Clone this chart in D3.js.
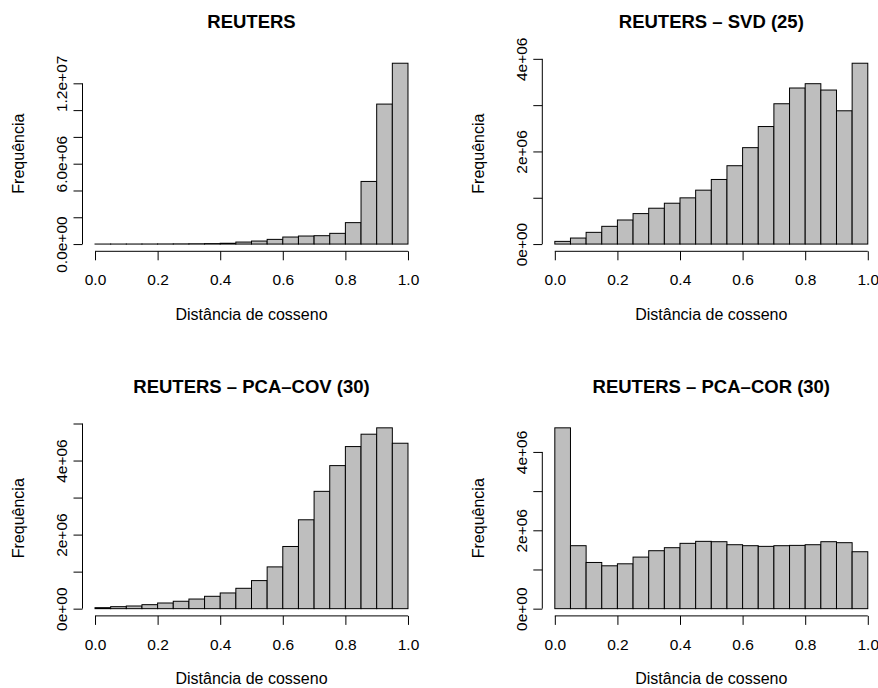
<!DOCTYPE html>
<html>
<head>
<meta charset="utf-8">
<script src="https://cdn.jsdelivr.net/npm/d3@7"></script>
<style>
  html, body { margin: 0; padding: 0; background: #ffffff; }
  svg { display: block; }
  text { font-family: "Liberation Sans", Arial, Helvetica, sans-serif; fill: #000; }
</style>
</head>
<body>
<svg id="chart" width="878" height="688"></svg>
<script>
// Histogram bin edges: 20 bins of width 0.05 over [0, 1]
const binEdges = d3.range(0, 21).map(i => i / 20);

// Counts per bin for each panel
const countsReuters = [2000, 3000, 4000, 6000, 9000, 14000, 22000, 35000, 60000, 150000,
  225000, 350000, 525000, 600000, 625000, 800000, 1600000, 4675000, 10450000, 13500000];
const countsSvd = [58000, 130000, 253000, 383000, 520000, 658000, 774000, 882000, 998000, 1164000,
  1395000, 1692000, 2082000, 2538000, 3030000, 3370000, 3463000, 3326000, 2878000, 3905000];
const countsPcaCov = [27000, 54000, 72000, 108000, 153000, 200000, 260000, 334000, 424000, 550000,
  758000, 1128000, 1679000, 2400000, 3168000, 3863000, 4377000, 4711000, 4883000, 4467000];
const countsPcaCor = [4615000, 1607000, 1179000, 1094000, 1145000, 1316000, 1479000, 1556000, 1667000, 1718000,
  1709000, 1632000, 1607000, 1590000, 1607000, 1615000, 1632000, 1709000, 1684000, 1453000];

// Panel titles
const titles = ["REUTERS", "REUTERS – SVD (25)", "REUTERS – PCA–COV (30)", "REUTERS – PCA–COR (30)"];

// Axis ticks and labels
const xTicks = [0, 0.2, 0.4, 0.6, 0.8, 1.0];
const xTickLabels = ["0.0", "0.2", "0.4", "0.6", "0.8", "1.0"];
const yTicksReuters = [0, 2e6, 4e6, 6e6, 8e6, 10e6, 12e6];
const yLabelsReuters = ["0.0e+00", "", "", "6.0e+06", "", "", "1.2e+07"];
const yTicksSvd = [0, 1e6, 2e6, 3e6, 4e6];
const yLabelsSvd = ["0e+00", "", "2e+06", "", "4e+06"];
const yTicksPcaCov = [0, 1e6, 2e6, 3e6, 4e6, 5e6];
const yLabelsPcaCov = ["0e+00", "", "2e+06", "", "4e+06", ""];
const yTicksPcaCor = [0, 1e6, 2e6, 3e6, 4e6];
const yLabelsPcaCor = ["0e+00", "", "2e+06", "", "4e+06"];

const xAxisTitle = "Distância de cosseno";
const yAxisTitle = "Frequência";

const panels = [
  { title: titles[0], counts: countsReuters, yTicks: yTicksReuters, yLabels: yLabelsReuters, col: 0, row: 0 },
  { title: titles[1], counts: countsSvd, yTicks: yTicksSvd, yLabels: yLabelsSvd, col: 1, row: 0 },
  { title: titles[2], counts: countsPcaCov, yTicks: yTicksPcaCov, yLabels: yLabelsPcaCov, col: 0, row: 1 },
  { title: titles[3], counts: countsPcaCor, yTicks: yTicksPcaCor, yLabels: yLabelsPcaCor, col: 1, row: 1 }
];

// Layout of the plot regions
const colLeft = [82.5, 542.3];
const plotW = 338;
const rowTop = [56, 420.6];
const plotH = 195.3;
const tickLen = 9;

const svg = d3.select("#chart");

panels.forEach(p => {
  const left = colLeft[p.col], top = rowTop[p.row];
  const right = left + plotW, bottom = top + plotH;
  const maxCount = d3.max(p.counts);

  // 4% padding on both axes, as in base graphics
  const x = d3.scaleLinear().domain([-0.04, 1.04]).range([left, right]);
  const y = d3.scaleLinear().domain([-0.04 * maxCount, 1.04 * maxCount]).range([bottom, top]);

  const g = svg.append("g");

  // Bars
  const bins = p.counts.map((c, i) => ({ x0: binEdges[i], x1: binEdges[i + 1], c }));
  g.selectAll("rect.bar").data(bins).enter().append("rect")
    .attr("class", "bar")
    .attr("x", d => x(d.x0))
    .attr("width", d => x(d.x1) - x(d.x0))
    .attr("y", d => y(d.c))
    .attr("height", d => y(0) - y(d.c))
    .attr("fill", "#bebebe")
    .attr("stroke", "#000")
    .attr("stroke-width", 1);

  // X axis
  const xAxis = d3.axisBottom(x).tickValues(xTicks).tickSize(tickLen).tickSizeOuter(0)
    .tickFormat((d, i) => xTickLabels[i]);
  const gx = g.append("g").attr("transform", `translate(0,${bottom})`).call(xAxis);
  gx.select(".domain").remove();
  gx.append("line")
    .attr("x1", x(xTicks[0])).attr("x2", x(xTicks[xTicks.length - 1]))
    .attr("y1", 0).attr("y2", 0).attr("stroke", "#000");
  gx.selectAll(".tick line").attr("stroke", "#000");
  gx.selectAll(".tick text")
    .attr("y", 34).attr("dy", 0)
    .style("font-size", "15.5px")
    .style("font-family", "'Liberation Sans', Arial, sans-serif")
    .attr("fill", "#000");

  // Y axis with rotated labels
  const yAxis = d3.axisLeft(y).tickValues(p.yTicks).tickSize(tickLen).tickSizeOuter(0)
    .tickFormat((d, i) => p.yLabels[i]);
  const gy = g.append("g").attr("transform", `translate(${left},0)`).call(yAxis);
  gy.select(".domain").remove();
  gy.append("line")
    .attr("x1", 0).attr("x2", 0)
    .attr("y1", y(p.yTicks[0])).attr("y2", y(p.yTicks[p.yTicks.length - 1]))
    .attr("stroke", "#000");
  gy.selectAll(".tick line").attr("stroke", "#000");
  gy.selectAll(".tick text")
    .attr("x", null).attr("y", null).attr("dy", null)
    .attr("transform", "translate(-15.7,0) rotate(-90)")
    .attr("text-anchor", "middle")
    .style("font-size", "15.5px")
    .style("font-family", "'Liberation Sans', Arial, sans-serif")
    .attr("fill", "#000");

  // Title
  g.append("text")
    .attr("x", (left + right) / 2).attr("y", top - 28)
    .attr("text-anchor", "middle")
    .style("font-size", "18.5px").style("font-weight", "bold")
    .text(p.title);

  // Axis titles
  g.append("text")
    .attr("x", (left + right) / 2).attr("y", bottom + 68.5)
    .attr("text-anchor", "middle")
    .style("font-size", "16px")
    .text(xAxisTitle);

  g.append("text")
    .attr("transform", `translate(${left - 58.5},${(top + bottom) / 2}) rotate(-90)`)
    .attr("text-anchor", "middle")
    .style("font-size", "16px")
    .text(yAxisTitle);
});
</script>
</body>
</html>
